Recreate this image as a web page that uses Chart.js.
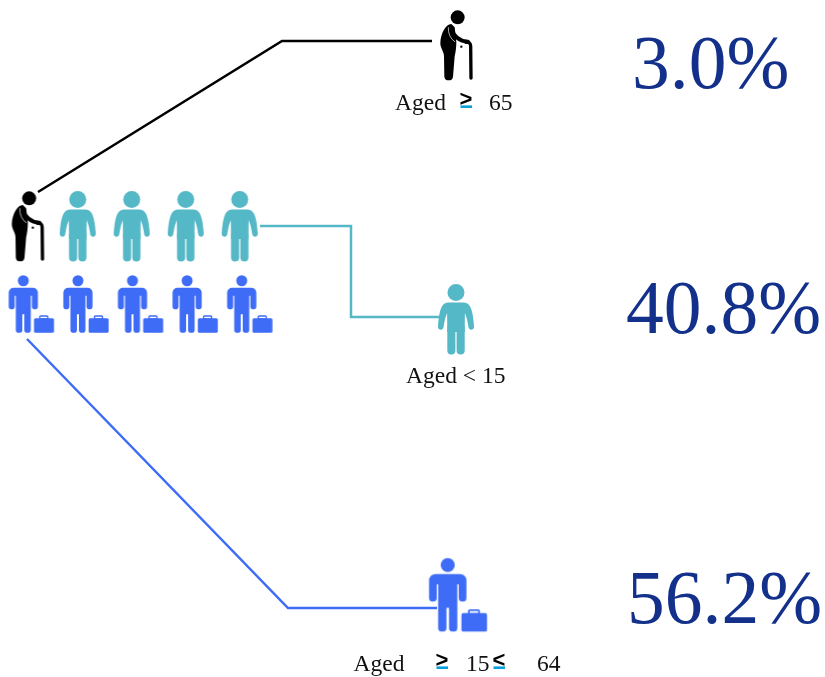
<!DOCTYPE html>
<html>
<head>
<meta charset="utf-8">
<style>
  html, body { margin: 0; padding: 0; background: #fff; overflow: hidden; }
  canvas { display: block; }
</style>
<script src="https://cdn.jsdelivr.net/npm/chart.js@4"></script>
</head>
<body>
<canvas id="ageChart" width="825" height="677"></canvas>
<script>
// Share of population per age group, same order everywhere
const shares = [3.0, 40.8, 56.2];
const iconCounts = [1, 4, 5];
const ageTexts = [
    ["Aged", ">", "65"],
    ["Aged < 15"],
    ["Aged", ">", "15", "<", "64"]
];

const BLACK = "#000000";
const TEAL = "#55b8c7";
const BLUE = "#3e6cf6";
const DARK_BLUE = "#13308a";
const RULE_BLUE = "#0a9fdc";

// Layout, in page pixels (the hidden scales run 0-825 and 677-0)
const gridXStart = [27.5, 77.7, 23.3];
const gridXStep = [0, 54, 54.6];
const gridY = [226, 226, 304];
const bigX = [456, 456, 447.7];
const bigY = [45, 319, 594.8];
const pctX = [632, 626, 627];
const pctY = [88, 333, 623];
const textX = [[395, 459.5, 489], [406], [353.5, 435.5, 466, 492.5, 537]];
const textY = [110, 382.5, 671];
const elbowX = [[38, 282, 432], [260, 351, 351, 440], [27, 288, 437]];
const elbowY = [[192, 41, 41], [226, 226, 317, 317], [339, 608, 608]];

function newIcon(w, h) {
    const c = document.createElement("canvas");
    c.width = w;
    c.height = h;
    const ctx = c.getContext("2d");
    ctx.translate(w / 2, h / 2);
    return [c, ctx];
}

function elderIcon() {
    const [c, ctx] = newIcon(42, 78);
    ctx.scale(1 / 3, 1 / 3);
    ctx.translate(-82, -138);
    ctx.fillStyle = BLACK;
    ctx.strokeStyle = BLACK;
    ctx.lineCap = "round";
    ctx.lineJoin = "round";
    ctx.beginPath();
    ctx.arc(87, 55, 21, 0, Math.PI * 2);
    ctx.fill();
    // back, belly and the one leg
    ctx.beginPath();
    ctx.moveTo(68, 75);
    ctx.bezierCurveTo(50, 76, 36, 105, 35, 132);
    ctx.bezierCurveTo(35, 148, 45, 156, 46, 170);
    ctx.lineTo(47, 233);
    ctx.quadraticCurveTo(48, 244, 60, 244);
    ctx.quadraticCurveTo(72, 244, 73, 233);
    ctx.lineTo(78, 172);
    ctx.bezierCurveTo(81, 158, 83, 145, 83, 128);
    ctx.lineTo(78, 85);
    ctx.closePath();
    ctx.fill();
    // arm
    ctx.lineWidth = 11;
    ctx.beginPath();
    ctx.moveTo(68, 88);
    ctx.quadraticCurveTo(80, 126, 118, 128);
    ctx.stroke();
    // thin white edge of the arm
    ctx.strokeStyle = "#ffffff";
    ctx.lineWidth = 2;
    ctx.beginPath();
    ctx.moveTo(59, 86);
    ctx.quadraticCurveTo(58, 114, 78, 128);
    ctx.stroke();
    // cane
    ctx.strokeStyle = BLACK;
    ctx.lineWidth = 10;
    ctx.beginPath();
    ctx.moveTo(112, 130);
    ctx.quadraticCurveTo(126, 128, 126, 142);
    ctx.lineTo(127, 237);
    ctx.stroke();
    ctx.beginPath();
    ctx.arc(98, 143, 3.5, 0, Math.PI * 2);
    ctx.fill();
    return c;
}

function childIcon() {
    const [c, ctx] = newIcon(42, 76);
    ctx.translate(0, -35);
    ctx.fillStyle = TEAL;
    ctx.beginPath();
    ctx.arc(0, 8.5, 8.5, 0, Math.PI * 2);
    ctx.fill();
    // torso with both arms, one outline
    ctx.beginPath();
    ctx.moveTo(-8, 18.5);
    ctx.lineTo(8, 18.5);
    ctx.bezierCurveTo(15, 18.5, 17, 28, 18, 42);
    ctx.quadraticCurveTo(18.2, 45.8, 15.2, 45.8);
    ctx.quadraticCurveTo(12.6, 45.8, 12.3, 42);
    ctx.quadraticCurveTo(11.5, 35, 8.9, 29);
    ctx.lineTo(8.7, 48);
    ctx.lineTo(-8.7, 48);
    ctx.lineTo(-8.9, 29);
    ctx.quadraticCurveTo(-11.5, 35, -12.3, 42);
    ctx.quadraticCurveTo(-12.6, 45.8, -15.2, 45.8);
    ctx.quadraticCurveTo(-18.2, 45.8, -18, 42);
    ctx.bezierCurveTo(-17, 28, -15, 18.5, -8, 18.5);
    ctx.closePath();
    ctx.fill();
    // legs
    ctx.beginPath();
    ctx.roundRect(-8.7, 40, 8.1, 30.5, 4);
    ctx.roundRect(0.6, 40, 8.1, 30.5, 4);
    ctx.fill();
    return c;
}

function workerIcon(scale) {
    const [c, ctx] = newIcon(Math.round(66 * scale), Math.round(60 * scale));
    ctx.scale(scale, scale);
    ctx.translate(0, -28.75);
    ctx.fillStyle = BLUE;
    ctx.strokeStyle = BLUE;
    ctx.beginPath();
    ctx.arc(0, 5.5, 5.5, 0, Math.PI * 2);
    ctx.fill();
    // shoulders and arms
    ctx.beginPath();
    ctx.roundRect(-14.6, 12.5, 29.2, 8, [5, 5, 0, 0]);
    ctx.roundRect(-14.6, 15, 6, 19, 2.8);
    ctx.roundRect(8.6, 15, 6, 19, 2.8);
    ctx.fill();
    // torso and legs
    ctx.beginPath();
    ctx.rect(-7.5, 14, 15, 25);
    ctx.roundRect(-7.5, 30, 6.5, 27.5, 2.8);
    ctx.roundRect(1, 30, 6.5, 27.5, 2.8);
    ctx.fill();
    // case
    ctx.beginPath();
    ctx.roundRect(10.7, 43, 20, 14.5, 1.5);
    ctx.fill();
    ctx.lineWidth = 1.4;
    ctx.beginPath();
    ctx.roundRect(16.5, 40.7, 8, 3, 0.8);
    ctx.stroke();
    return c;
}

const smallIcons = [elderIcon(), childIcon(), workerIcon(1)];
const bigIcons = [elderIcon(), childIcon(), workerIcon(1.28)];
const lineColors = [BLACK, TEAL, BLUE];

const datasets = [];
iconCounts.forEach((count, g) => {
    const pts = [];
    for (let i = 0; i < count; i++) {
        pts.push({ x: gridXStart[g] + i * gridXStep[g], y: gridY[g] });
    }
    datasets.push({ data: pts, showLine: false, pointStyle: smallIcons[g], pointRadius: 10 });
    datasets.push({
        data: [{ x: bigX[g], y: bigY[g] }],
        showLine: false,
        pointStyle: bigIcons[g],
        pointRadius: 10
    });
});
elbowX.forEach((xs, g) => {
    datasets.push({
        data: xs.map((x, i) => ({ x: x, y: elbowY[g][i] })),
        showLine: true,
        borderColor: lineColors[g],
        borderWidth: 2.5,
        pointRadius: 0,
        tension: 0
    });
});

// Percent figures and the age captions, placed through the scales
const textPlugin = {
    id: "ageText",
    afterDatasetsDraw(chart) {
        const ctx = chart.ctx;
        const sx = chart.scales.x;
        const sy = chart.scales.y;
        ctx.save();
        ctx.textBaseline = "alphabetic";
        ctx.textAlign = "left";

        ctx.fillStyle = DARK_BLUE;
        ctx.font = '75.5px "Liberation Serif"';
        shares.forEach((v, g) => {
            ctx.fillText(v.toFixed(1) + "%", sx.getPixelForValue(pctX[g]), sy.getPixelForValue(pctY[g]));
        });

        ageTexts.forEach((parts, g) => {
            parts.forEach((t, i) => {
                const x = sx.getPixelForValue(textX[g][i]);
                const y = sy.getPixelForValue(textY[g]);
                if (t === ">" || t === "<") {
                    ctx.fillStyle = BLACK;
                    ctx.font = 'bold 22px "Liberation Sans"';
                    ctx.fillText(t, x, y - 4.5);
                    ctx.fillStyle = RULE_BLUE;
                    ctx.fillRect(x + 1, y - 4.6, 11.5, 2.6);
                } else {
                    ctx.fillStyle = "#111111";
                    ctx.font = '23.5px "Liberation Serif"';
                    ctx.fillText(t, x, y);
                }
            });
        });
        ctx.restore();
    }
};

new Chart(document.getElementById("ageChart").getContext("2d"), {
    type: "scatter",
    data: { datasets: datasets },
    plugins: [textPlugin],
    options: {
        responsive: false,
        animation: false,
        layout: { padding: 0, autoPadding: false },
        clip: false,
        plugins: { legend: { display: false }, tooltip: { enabled: false } },
        scales: {
            x: { type: "linear", min: 0, max: 825, display: false },
            y: { type: "linear", min: 0, max: 677, reverse: true, display: false }
        }
    }
});
</script>
</body>
</html>
